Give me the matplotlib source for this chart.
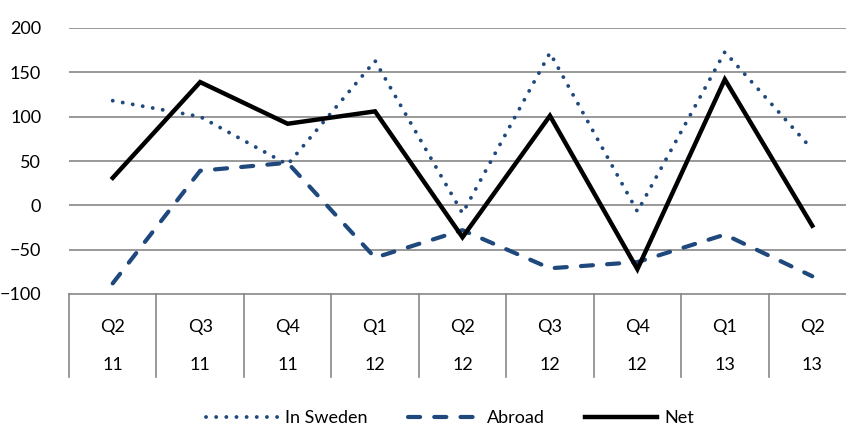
import matplotlib
matplotlib.use("Agg")
import matplotlib.pyplot as plt

plt.rcParams['font.family'] = ['Lato', 'DejaVu Sans']

quarters = ["Q2", "Q3", "Q4", "Q1", "Q2", "Q3", "Q4", "Q1", "Q2"]
years = ["11", "11", "11", "12", "12", "12", "12", "13", "13"]

in_sweden = [118, 100, 46, 163, -9, 172, -7, 173, 63]
abroad = [-88, 39, 48, -59, -28, -71, -64, -33, -80]
net = [31, 139, 92, 106, -36, 101, -72, 142, -23]

blue = "#1F497D"
grey = "#878787"
fs = 13

fig = plt.figure(figsize=(8.46, 4.28), dpi=100)
# axes runs a bit past the right edge, like the original
ax = fig.add_axes([69/846, 134/428, 787/846, 266/428])

x = [i + 0.5 for i in range(len(quarters))]
ax.plot(x, in_sweden, color=blue, lw=2.8, linestyle=(0, (0.01, 2.6)),
        dash_capstyle='round', label="In Sweden")
ax.plot(x, abroad, color=blue, lw=3, linestyle=(0, (2.9, 3.4)),
        dash_capstyle='round', label="Abroad")
ax.plot(x, net, color="black", lw=3.2, solid_joinstyle='miter', label="Net")

ax.set_xlim(0, len(quarters))
ax.set_ylim(-100, 200)
ax.set_yticks(range(-100, 201, 50))
for v in range(-50, 201, 50):
    ax.axhline(v, color=grey, lw=1.2, zorder=0)

for s in ["top", "right", "left"]:
    ax.spines[s].set_visible(False)
ax.spines["bottom"].set_color(grey)
ax.spines["bottom"].set_linewidth(1.2)

ax.tick_params(axis='y', length=0, pad=20, labelsize=fs)
ax.set_xticks([])

# category separators and two-row labels under the axis
sep = -83/266
for i in range(len(quarters) + 1):
    ax.plot([i, i], [0, sep], transform=ax.get_xaxis_transform(),
            color=grey, lw=1.2, clip_on=False)
for i in range(len(quarters)):
    ax.text(i + 0.5, -33/266, quarters[i], transform=ax.get_xaxis_transform(),
            ha='center', va='center', fontsize=fs)
    ax.text(i + 0.5, -71/266, years[i], transform=ax.get_xaxis_transform(),
            ha='center', va='center', fontsize=fs)

fig.legend(loc='center', bbox_to_anchor=(450/846, 1 - 418/428), ncol=3,
           frameon=False, fontsize=fs, handlelength=4.0, columnspacing=2.2,
           handletextpad=0.4)

fig.savefig("out.png", dpi=100)
